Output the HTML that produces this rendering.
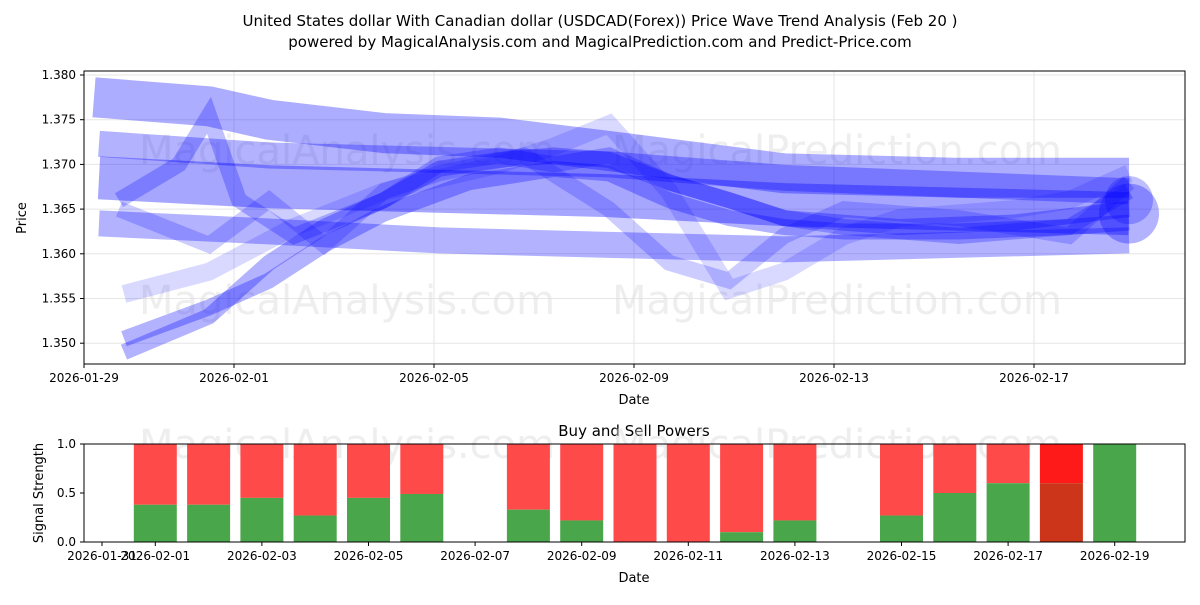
<!DOCTYPE html>
<html><head><meta charset="utf-8"><style>
body{margin:0;background:#fff;font-family:"Liberation Sans","DejaVu Sans",sans-serif}
svg text{font-family:"DejaVu Sans","Liberation Sans",sans-serif}
</style></head><body>
<svg id="c" width="1200" height="600" xmlns="http://www.w3.org/2000/svg">
<text x="600" y="26" font-size="15" text-anchor="middle">United States dollar With Canadian dollar (USDCAD(Forex)) Price Wave Trend Analysis (Feb 20 )</text>
<text x="600" y="47" font-size="15" text-anchor="middle">powered by MagicalAnalysis.com and MagicalPrediction.com and Predict-Price.com</text>
<g id="main"></g>
<g id="sub"></g>
</svg>
<script>
const waveDays = [
 [0.2,2.5,3.7,6,8.3,10.5,14,17.5,20.9],
 [0.3,3.7,7.1,10.5,14,20.9],
 [0.3,3.7,7.1,10.5,14,20.9],
 [0.3,3.7,7.1,10.5,14,20.9],
 [0.8,2.5,3.7,4.8,6,7.1,8.3,9.4,10.5,11.7,12.9,14,16.3,18.6,20.9],
 [0.8,2.5,3.7,4.8,6,7.7,9.4,10.5,11.7,12.9,14,15.2,17.5,19.7,20.9],
 [0.7,1.9,2.5,3.1,4.2,6,7.1,8.3,9.4,10.5,11.7,12.9,14,15.2,17.5,19.7,20.9],
 [0.8,2.5,4.2,6,8.3,9.4,10.5,11.7,12.9,14,15.2,16.3,18.6,19.7,20.9],
 [0.7,2.5,3.7,4.8,6,7.1,8.8,10.5,11.7,12.9,14,15.2,17.5,19.7,20.9]
];
const wavePrices = [
 [1.3775,1.3765,1.375,1.3735,1.373,1.3715,1.369,1.3685,1.3685],
 [1.3723,1.371,1.3705,1.370,1.3685,1.367],
 [1.3685,1.3675,1.367,1.3665,1.3655,1.3645],
 [1.3634,1.3625,1.3615,1.361,1.3605,1.3615],
 [1.349,1.353,1.359,1.363,1.366,1.3695,1.3705,1.371,1.3705,1.368,1.366,1.364,1.363,1.3635,1.365],
 [1.3505,1.354,1.357,1.361,1.3645,1.368,1.3695,1.369,1.366,1.364,1.363,1.3625,1.3625,1.363,1.3635],
 [1.366,1.370,1.3755,1.366,1.362,1.366,1.370,1.371,1.370,1.371,1.368,1.366,1.364,1.363,1.362,1.363,1.367],
 [1.3555,1.358,1.363,1.367,1.370,1.372,1.3745,1.367,1.356,1.358,1.362,1.364,1.365,1.366,1.369],
 [1.365,1.361,1.366,1.361,1.367,1.369,1.371,1.365,1.359,1.357,1.362,1.365,1.364,1.362,1.368]
];
const waveWidths=[40,26,43,26,16,16,16,18,16];
const waveOpac=[0.32,0.3,0.35,0.3,0.3,0.3,0.25,0.15,0.2];
const priceTicks=[1.350,1.355,1.360,1.365,1.370,1.375,1.380];
const dateTickDays=[0,3,7,11,15,19];
const dateTickLabels=["2026-01-29","2026-02-01","2026-02-05","2026-02-09","2026-02-13","2026-02-17"];
const barDays=[1,2,3,4,5,6,8,9,10,11,12,13,15,16,17,18,19];
const buyVals=[0.38,0.38,0.45,0.27,0.45,0.49,0.33,0.22,0,0,0.1,0.22,0.27,0.5,0.6,0.6,1.0];
const subTickLabels=["2026-01-31","2026-02-01","2026-02-03","2026-02-05","2026-02-07","2026-02-09","2026-02-11","2026-02-13","2026-02-15","2026-02-17","2026-02-19"];
const sigTicks=[0,0.5,1.0];

const NS="http://www.w3.org/2000/svg";
function mk(p,t,a){const e=document.createElementNS(NS,t);for(const k in a)e.setAttribute(k,a[k]);p.appendChild(e);return e;}
const L=84,R=1185,T=71,B=364;
const xm=d=>L+50*d, ym=p=>75+(1.380-p)*8940;
const main=document.getElementById('main');
priceTicks.forEach(p=>{const y=ym(p);
 const g=mk(main,'line',{x1:L,x2:R,y1:y,y2:y,stroke:'#e6e6e6'});
 
 mk(main,'line',{x1:L-4,x2:L,y1:y,y2:y,stroke:'#000'});
 const t=mk(main,'text',{x:L-8,y:y+4,'font-size':12,'text-anchor':'end'});t.textContent=p.toFixed(3);
 });
dateTickDays.forEach((d,i)=>{const x=xm(d);
 const g=mk(main,'line',{x1:x,x2:x,y1:T,y2:B,stroke:'#e6e6e6'});
 
 mk(main,'line',{x1:x,x2:x,y1:B,y2:B+4,stroke:'#000'});
 const t=mk(main,'text',{x:x,y:B+18,'font-size':12,'text-anchor':'middle'});t.textContent=dateTickLabels[i];
 });
[[347,150],[837,150],[347,300],[837,300]].forEach((p,i)=>{const t=mk(main,'text',{x:p[0],y:p[1]+14,'font-size':40,'text-anchor':'middle',fill:'#ddd','fill-opacity':0.5});
 t.textContent=i%2?'MagicalPrediction.com':'MagicalAnalysis.com';
 });
const clip=mk(main,'clipPath',{id:'cp'});mk(clip,'rect',{x:L,y:T,width:R-L,height:B-T});
const wg=mk(main,'g',{'clip-path':'url(#cp)'});
waveDays.forEach((ds,i)=>{
 const pts=ds.map((d,j)=>xm(d)+','+ym(wavePrices[i][j])).join(' ');
 const pl=mk(wg,'polyline',{points:pts,fill:'none',stroke:'#0000ff','stroke-opacity':waveOpac[i],'stroke-width':waveWidths[i],'stroke-linejoin':'miter'});
 
});
const c1=mk(wg,'circle',{cx:xm(20.9),cy:ym(1.3645),r:30,fill:'#0000ff','fill-opacity':0.3});

const c2=mk(wg,'circle',{cx:xm(20.9),cy:ym(1.366),r:24,fill:'#0000ff','fill-opacity':0.25});

mk(main,'rect',{x:L,y:T,width:R-L,height:B-T,fill:'none',stroke:'#000'});
const yl=mk(main,'text',{x:26,y:218,'font-size':13,'text-anchor':'middle',transform:'rotate(-90 26 218)'});yl.textContent='Price';

const xl=mk(main,'text',{x:634,y:404,'font-size':13,'text-anchor':'middle'});xl.textContent='Date';


const sub=document.getElementById('sub');
const ST=444,SB=542;
const xs=d=>102+53.3*d, ys=v=>SB-(SB-ST)*v;
const st=mk(sub,'text',{x:634,y:436,'font-size':15,'text-anchor':'middle'});st.textContent='Buy and Sell Powers';

[[347,444],[837,444]].forEach((p,i)=>{const t=mk(sub,'text',{x:p[0],y:p[1]+14,'font-size':40,'text-anchor':'middle',fill:'#ddd','fill-opacity':0.5});
 t.textContent=i?'MagicalPrediction.com':'MagicalAnalysis.com';
 });
barDays.forEach((d,i)=>{const x=xs(d)-21.5,v=buyVals[i];
 const last=i===barDays.length-2;
 const r=mk(sub,'rect',{x:x,y:ys(1),width:43,height:ys(v)-ys(1),fill:last?'#ff1a1a':'#ff4a4a'});
 
 const g=mk(sub,'rect',{x:x,y:ys(v),width:43,height:SB-ys(v),fill:last?'#cc3519':'#4aa64a'});
 });
sigTicks.forEach(v=>{const y=ys(v);mk(sub,'line',{x1:L-4,x2:L,y1:y,y2:y,stroke:'#000'});
 const t=mk(sub,'text',{x:L-8,y:y+4,'font-size':12,'text-anchor':'end'});t.textContent=v.toFixed(1);
 });
subTickLabels.forEach((s,i)=>{const x=i===0?xs(0):xs(2*i-1);
 mk(sub,'line',{x1:x,x2:x,y1:SB,y2:SB+4,stroke:'#000'});
 const t=mk(sub,'text',{x:x,y:SB+18,'font-size':12,'text-anchor':'middle'});t.textContent=s;
 });
mk(sub,'rect',{x:L,y:ST,width:R-L,height:SB-ST,fill:'none',stroke:'#000'});
const syl=mk(sub,'text',{x:43,y:493,'font-size':13,'text-anchor':'middle',transform:'rotate(-90 43 493)'});syl.textContent='Signal Strength';

const sxl=mk(sub,'text',{x:634,y:582,'font-size':13,'text-anchor':'middle'});sxl.textContent='Date';

</script>
</body></html>
